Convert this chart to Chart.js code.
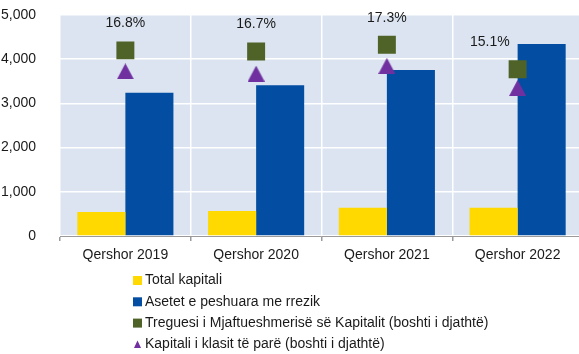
<!DOCTYPE html>
<html>
<head>
<meta charset="utf-8">
<script src="https://cdn.jsdelivr.net/npm/chart.js@4"></script>
<style>
  html, body { margin: 0; padding: 0; overflow: hidden; background: #fff; }
  #canva { width: 584px; height: 354px; }
</style>
</head>
<body>
<div id="canva"><canvas id="myChart"></canvas></div>
<script>
const labels = ['Qershor 2019', 'Qershor 2020', 'Qershor 2021', 'Qershor 2022'];
const totalKapitali = [545, 565, 640, 640];
const asetetRrezik = [3240, 3410, 3755, 4345];
const treguesi = [16.8, 16.7, 17.3, 15.1];
const klasiPare = [14.9, 14.7, 15.4, 13.4];

const font = "'Liberation Sans', Arial, sans-serif";
const textColor = '#1a1a1a';

// triangle marker centred on its own box, like the office-style markers
function makeTriangle(w, h, color) {
  let c = document.createElement('canvas');
  c.width = w;
  c.height = h;
  let ctx = c.getContext('2d');
  ctx.fillStyle = color;
  ctx.beginPath();
  ctx.moveTo(w / 2, 0);
  ctx.lineTo(w, h);
  ctx.lineTo(0, h);
  ctx.closePath();
  ctx.fill();
  return c;
}

const plotBackground = {
  id: 'plotBackground',
  beforeDraw(chart) {
    const {ctx, chartArea} = chart;
    ctx.save();
    ctx.fillStyle = '#DBE4F0';
    ctx.fillRect(chartArea.left, chartArea.top, chartArea.right - chartArea.left, chartArea.bottom - chartArea.top);
    ctx.restore();
  }
};

// percent labels above the capital adequacy squares
const percentLabels = {
  id: 'percentLabels',
  afterDatasetsDraw(chart) {
    const ctx = chart.ctx;
    const points = chart.getDatasetMeta(2).data;
    const bars = chart.getDatasetMeta(1).data;
    ctx.save();
    ctx.font = '14px ' + font;
    ctx.fillStyle = textColor;
    ctx.textBaseline = 'middle';
    for (let i = 0; i < points.length; i++) {
      let txt = treguesi[i].toFixed(1) + '%';
      let x = points[i].x;
      let y = points[i].y - 27;
      if (bars[i].y < y + 8) {
        ctx.textAlign = 'right';
        x = x - 8;
      } else {
        ctx.textAlign = 'center';
      }
      ctx.fillText(txt, x, y);
    }
    ctx.restore();
  }
};

// vertical legend under the axis
const stackedLegend = {
  id: 'stackedLegend',
  afterDraw(chart) {
    const ctx = chart.ctx;
    const x = 133;
    let y = 280.5;
    ctx.save();
    ctx.font = '14px ' + font;
    ctx.textBaseline = 'middle';
    ctx.textAlign = 'left';
    chart.data.datasets.forEach(ds => {
      ctx.fillStyle = ds.backgroundColor;
      if (ds.legendMarker === 'triangle') {
        ctx.beginPath();
        ctx.moveTo(x + 4.5, y - 4);
        ctx.lineTo(x + 8, y + 3.5);
        ctx.lineTo(x + 1, y + 3.5);
        ctx.closePath();
        ctx.fill();
      } else {
        ctx.fillRect(x, y - 4.5, 9, 9);
      }
      ctx.fillStyle = textColor;
      ctx.fillText(ds.label, x + 12, y);
      y += 21.3;
    });
    ctx.restore();
  }
};

let newCanvas = document.getElementById('myChart');
let myChart = new Chart(newCanvas, {
  type: 'bar',
  data: {
    labels: labels,
    datasets: [
      {
        label: 'Total kapitali',
        data: totalKapitali,
        backgroundColor: '#FFD900',
        borderWidth: 0,
        categoryPercentage: 0.735,
        barPercentage: 1,
        yAxisID: 'y',
        order: 2
      },
      {
        label: 'Asetet e peshuara me rrezik',
        data: asetetRrezik,
        backgroundColor: '#034EA2',
        borderWidth: 0,
        categoryPercentage: 0.735,
        barPercentage: 1,
        yAxisID: 'y',
        order: 2
      },
      {
        type: 'line',
        label: 'Treguesi i Mjaftueshmerisë së Kapitalit (boshti i djathtë)',
        data: treguesi,
        backgroundColor: '#4F6228',
        borderColor: '#4F6228',
        showLine: false,
        pointStyle: 'rect',
        pointRadius: 12.7,
        pointBorderWidth: 0,
        yAxisID: 'y1',
        order: 1
      },
      {
        type: 'line',
        label: 'Kapitali i klasit të parë (boshti i djathtë)',
        data: klasiPare,
        backgroundColor: '#7030A0',
        borderColor: '#7030A0',
        showLine: false,
        pointStyle: makeTriangle(17, 16, '#7030A0'),
        pointRadius: 9,
        pointBorderWidth: 0,
        legendMarker: 'triangle',
        yAxisID: 'y1',
        order: 0
      }
    ]
  },
  options: {
    responsive: true,
    maintainAspectRatio: false,
    animation: false,
    layout: { autoPadding: false, padding: { top: 15, left: 1, right: 1, bottom: 90 } },
    plugins: {
      legend: { display: false },
      tooltip: { enabled: false }
    },
    scales: {
      x: {
        offset: true,
        grid: {
          offset: true,
          color: '#ffffff',
          lineWidth: 1.5,
          tickColor: '#9a9a9a',
          tickLength: 5
        },
        border: { color: '#9a9a9a' },
        ticks: { color: textColor, font: { family: font, size: 14 }, padding: 6 },
        afterFit: scale => { scale.height = 28; }
      },
      y: {
        min: 0,
        max: 5000,
        grid: { color: '#ffffff', lineWidth: 1.5, drawTicks: false },
        border: { display: false },
        ticks: {
          stepSize: 1000,
          padding: 24,
          color: textColor,
          font: { family: font, size: 14 },
          callback: v => v.toLocaleString('en-US')
        },
        afterFit: scale => {
          scale.width = 59;
          scale.paddingTop = 0;
          scale.paddingBottom = 0;
        }
      },
      y1: {
        display: false,
        position: 'right',
        min: 0,
        max: 20
      }
    }
  },
  plugins: [plotBackground, percentLabels, stackedLegend]
});
</script>
</body>
</html>
